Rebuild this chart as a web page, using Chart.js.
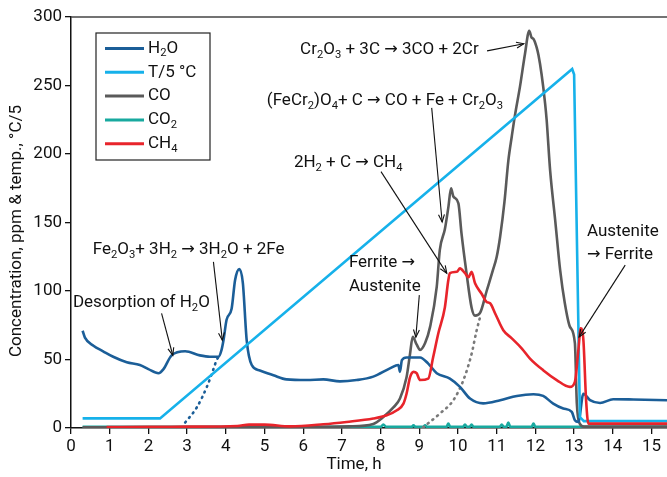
<!DOCTYPE html>
<html>
<head>
<meta charset="utf-8">
<script src="https://cdn.jsdelivr.net/npm/chart.js@4.4.1/dist/chart.umd.min.js"></script>
<style>
  html, body { margin: 0; padding: 0; background: #fff; }
</style>
</head>
<body>
<canvas id="chart" width="667" height="477"></canvas>
<script>
// values (time in h, concentration in ppm, temperature in °C/5)
const tempTime = [0.3, 2.3, 12.95, 13.0, 13.15, 13.25, 15.4];
const tempVal = [7, 7, 262, 258, 8, 5, 5];

const h2oTime = [0.30, 0.36, 0.58, 0.83, 1.09, 1.44, 1.78, 2.0, 2.26, 2.39, 2.6, 2.95, 3.33, 3.59, 3.81, 3.89, 3.94, 4.02, 4.15, 4.24, 4.35, 4.44, 4.54, 4.67, 4.88, 5.23, 5.57, 6.09, 6.52, 6.95, 7.38, 7.81, 8.24, 8.46, 8.5, 8.55, 8.67, 9.02, 9.23, 9.45, 9.79, 10.05, 10.31, 10.65, 11.09, 11.52, 11.95, 12.2, 12.46, 12.72, 12.94, 13.02, 13.11, 13.24, 13.41, 13.67, 14.01, 14.53, 15.4];
const h2oVal = [71, 66, 60, 56, 52, 48, 46, 43, 40, 43, 53, 56, 53, 52, 52, 57, 64, 79, 87, 108, 116, 106, 64, 46, 42, 38.5, 35.5, 35, 35.5, 34, 35, 37.5, 43.5, 46, 41, 49.5, 51.5, 51.5, 47, 40, 36, 30, 21.5, 18, 20.3, 23.4, 24.6, 23.4, 17.8, 14.2, 11.7, 5.6, 4.4, 25, 20.3, 18.3, 21, 20.8, 20.3];

const h2oFitTime = [2.95, 3.25, 3.51, 3.7, 3.76, 3.85];
const h2oFitVal = [4, 15, 30, 44.5, 49.5, 53];

const coTime = [0.3, 5, 7.2, 7.81, 8.07, 8.33, 8.5, 8.67, 8.76, 8.83, 8.93, 9.02, 9.15, 9.28, 9.45, 9.53, 9.66, 9.75, 9.82, 9.88, 10.01, 10.09, 10.22, 10.35, 10.44, 10.57, 10.74, 10.9, 11.0, 11.09, 11.2, 11.3, 11.39, 11.47, 11.6, 11.73, 11.84, 11.9, 11.95, 12.03, 12.08, 12.16, 12.25, 12.29, 12.38, 12.51, 12.64, 12.76, 12.89, 13.02, 13.07, 13.15, 13.25, 15.4];
const coVal = [0.5, 0.5, 1.2, 3, 8, 15, 21.5, 37, 54, 66.5, 61, 57, 62, 74, 103, 130, 145, 161, 175, 169, 164, 142, 113, 88, 82, 84, 100, 115, 125, 140, 165, 195, 213, 228, 249, 273, 290, 285, 284, 278, 272, 258, 237, 225, 188, 152, 115, 91, 74, 62, 18, 3, 1, 1];

const coFitTime = [9.1, 9.53, 9.88, 10.14, 10.35, 10.48, 10.57];
const coFitVal = [0.5, 10.5, 20.3, 35, 54, 71, 81];

const co2Time = [0.3, 8.0, 8.07, 8.15, 8.8, 8.85, 8.9, 9.1, 9.15, 9.2, 9.7, 9.75, 9.8, 10.13, 10.18, 10.23, 10.3, 10.35, 10.4, 11.08, 11.13, 11.18, 11.25, 11.3, 11.35, 11.9, 11.95, 12.0, 15.4];
const co2Val = [0.8, 0.8, 2.5, 0.8, 0.8, 2, 0.8, 0.8, 2, 0.8, 0.8, 3.2, 0.8, 0.8, 2.5, 0.8, 0.8, 2.5, 0.8, 0.8, 2.5, 0.8, 0.8, 4, 0.8, 0.8, 3.2, 0.8, 0.8];

const ch4Time = [0.92, 2, 3, 4.3, 4.6, 5, 5.66, 6.52, 7.12, 7.81, 8.16, 8.42, 8.59, 8.67, 8.76, 8.85, 8.93, 9.02, 9.23, 9.36, 9.49, 9.66, 9.75, 9.79, 9.97, 10.05, 10.18, 10.27, 10.35, 10.44, 10.61, 10.74, 10.83, 10.96, 11.17, 11.39, 11.65, 11.86, 12.2, 12.55, 12.89, 13.02, 13.11, 13.17, 13.24, 13.31, 13.37, 15.4];
const ch4Val = [0.7, 0.8, 1, 1.5, 2.5, 2.5, 1.2, 2.7, 4.4, 6.9, 9.3, 12.9, 17.8, 25, 37, 41, 40, 35, 36, 52, 69, 88, 108, 113, 114, 116.5, 113, 110, 114, 105.6, 98, 92, 91, 83.6, 71.4, 65.4, 58, 50.7, 42.2, 35, 30, 33.6, 56.8, 72.7, 64, 20, 3.2, 3.2];

const FONT = 'Roboto, "Liberation Sans", sans-serif';
const ARROW_FONT = '"DejaVu Sans", sans-serif';

function pts(xs, ys) {
  return xs.map((x, i) => ({ x: x, y: ys[i] }));
}

const legendItems = [
  { label: 'H_2O', color: '#1b5e98' },
  { label: 'T/5 °C', color: '#16b1ea' },
  { label: 'CO', color: '#5a5a5a' },
  { label: 'CO_2', color: '#18a99f' },
  { label: 'CH_4', color: '#e8242b' }
];

// text notes with leader arrows, positioned in data units
const notes = [
  { lines: ['Cr_2O_3 + 3C → 3CO + 2Cr'], x: 5.92, y: 276, from: [10.75, 275.3], to: [11.7, 280.5] },
  { lines: ['(FeCr_2)O_4+ C → CO + Fe + Cr_2O_3'], x: 5.06, y: 238.8, from: [9.32, 233.7], to: [9.59, 150.4] },
  { lines: ['2H_2 + C → CH_4'], x: 5.76, y: 193.5, from: [8.01, 187.1], to: [9.71, 112.9] },
  { lines: ['Fe_2O_3+ 3H_2 → 3H_2O + 2Fe'], x: 0.56, y: 129.9, from: [3.68, 121.3], to: [3.91, 64.1] },
  { lines: ['Desorption of H_2O'], x: 0.05, y: 91.2, from: [2.34, 83.6], to: [2.63, 53.1] },
  { lines: ['Ferrite →', 'Austenite'], x: 7.18, y: 120.4, from: [9.0, 97], to: [8.91, 66.3] },
  { lines: ['Austenite', '→ Ferrite'], x: 13.33, y: 143.3, from: [14.32, 118.9], to: [13.13, 66.5] }
];

// draws text where "_x" is a subscript character; arrows get a fuller glyph
function drawRich(ctx, text, x, y, size) {
  let cx = x;
  let i = 0;
  while (i < text.length) {
    let kind = 'n', run = '';
    if (text[i] === '_') {
      kind = 's';
      run = text[i + 1];
      i += 2;
    } else if (text[i] === '→') {
      kind = 'a';
      run = '→';
      i += 1;
    } else {
      while (i < text.length && text[i] !== '_' && text[i] !== '→') run += text[i++];
    }
    if (kind === 's') {
      ctx.font = (size * 0.66) + 'px ' + FONT;
      ctx.fillText(run, cx, y + size * 0.3);
    } else if (kind === 'a') {
      ctx.font = (size * 0.95) + 'px ' + ARROW_FONT;
      ctx.fillText(run, cx, y);
    } else {
      ctx.font = size + 'px ' + FONT;
      ctx.fillText(run, cx, y);
    }
    cx += ctx.measureText(run).width;
  }
  return cx - x;
}

function arrow(ctx, x1, y1, x2, y2) {
  ctx.beginPath();
  ctx.moveTo(x1, y1);
  ctx.lineTo(x2, y2);
  ctx.stroke();
  const a = Math.atan2(y2 - y1, x2 - x1);
  const len = 8, w = 0.38;
  ctx.beginPath();
  ctx.moveTo(x2 - len * Math.cos(a - w), y2 - len * Math.sin(a - w));
  ctx.lineTo(x2, y2);
  ctx.lineTo(x2 - len * Math.cos(a + w), y2 - len * Math.sin(a + w));
  ctx.stroke();
}

const extras = {
  id: 'extras',
  afterDatasetsDraw(chart) {
    const ctx = chart.ctx;
    const ca = chart.chartArea;
    const sx = chart.scales.x, sy = chart.scales.y;
    ctx.save();
    // top frame line
    ctx.strokeStyle = '#444';
    ctx.lineWidth = 1.5;
    ctx.beginPath();
    ctx.moveTo(ca.left, ca.top);
    ctx.lineTo(chart.width, ca.top);
    ctx.stroke();

    ctx.fillStyle = '#111';
    ctx.textBaseline = 'middle';
    ctx.textAlign = 'left';
    ctx.strokeStyle = '#111';
    ctx.lineWidth = 1.1;
    notes.forEach(n => {
      const px = sx.getPixelForValue(n.x);
      let py = sy.getPixelForValue(n.y);
      n.lines.forEach(line => {
        drawRich(ctx, line, px, py, 17);
        py += 23.5;
      });
      arrow(ctx, sx.getPixelForValue(n.from[0]), sy.getPixelForValue(n.from[1]),
        sx.getPixelForValue(n.to[0]), sy.getPixelForValue(n.to[1]));
    });

    // legend box
    const lx = ca.left + 25, ly = ca.top + 16;
    ctx.fillStyle = '#fff';
    ctx.fillRect(lx, ly, 114, 127);
    ctx.strokeStyle = '#222';
    ctx.lineWidth = 1.2;
    ctx.strokeRect(lx, ly, 114, 127);
    legendItems.forEach((it, i) => {
      const yy = ly + 15.5 + i * 23.8;
      ctx.strokeStyle = it.color;
      ctx.lineWidth = 3;
      ctx.beginPath();
      ctx.moveTo(lx + 9, yy);
      ctx.lineTo(lx + 48, yy);
      ctx.stroke();
      ctx.fillStyle = '#111';
      drawRich(ctx, it.label, lx + 52, yy, 17);
    });

    // axis titles
    ctx.fillStyle = '#111';
    ctx.font = '17px ' + FONT;
    ctx.textAlign = 'center';
    ctx.fillText('Time, h', 354, 465);
    ctx.translate(17, 231);
    ctx.rotate(-Math.PI / 2);
    ctx.fillText('Concentration, ppm & temp., °C/5', 0, 0);
    ctx.restore();
  }
};

const lineStyle = {
  pointRadius: 0,
  borderWidth: 2.6,
  fill: false,
  cubicInterpolationMode: 'monotone'
};

new Chart(document.getElementById('chart'), {
  type: 'line',
  plugins: [extras],
  data: {
    datasets: [
      Object.assign({ label: 'CH4', data: pts(ch4Time, ch4Val), borderColor: '#e8242b' }, lineStyle),
      Object.assign({ label: 'T/5 °C', data: pts(tempTime, tempVal), borderColor: '#16b1ea' }, lineStyle, { cubicInterpolationMode: 'default', tension: 0 }),
      Object.assign({ label: 'H2O', data: pts(h2oTime, h2oVal), borderColor: '#1b5e98' }, lineStyle),
      Object.assign({ label: 'H2O fit', data: pts(h2oFitTime, h2oFitVal), borderColor: '#1b5e98', borderDash: [1, 5], borderCapStyle: 'round' }, lineStyle),
      Object.assign({ label: 'CO', data: pts(coTime, coVal), borderColor: '#5a5a5a' }, lineStyle),
      Object.assign({ label: 'CO fit', data: pts(coFitTime, coFitVal), borderColor: '#7a7a7a', borderDash: [1, 5], borderCapStyle: 'round' }, lineStyle),
      Object.assign({ label: 'CO2', data: pts(co2Time, co2Val), borderColor: '#18a99f' }, lineStyle)
    ]
  },
  options: {
    responsive: false,
    animation: false,
    layout: { padding: { top: 17, right: 0, left: 0, bottom: 0 } },
    plugins: {
      legend: { display: false },
      tooltip: { enabled: false }
    },
    scales: {
      x: {
        type: 'linear',
        min: 0,
        max: 15.4,
        afterFit: function (s) { s.height = 49; },
        ticks: {
          stepSize: 1,
          includeBounds: false,
          autoSkip: false,
          maxRotation: 0,
          color: '#111',
          padding: 3,
          font: { family: FONT, size: 17 }
        },
        grid: { drawOnChartArea: false, tickLength: 6, color: '#111', lineWidth: 1.3 },
        border: { color: '#111', width: 1.5 }
      },
      y: {
        min: 0,
        max: 300,
        afterFit: function (s) { s.width = 71; },
        ticks: {
          stepSize: 50,
          color: '#111',
          padding: 3,
          font: { family: FONT, size: 17 }
        },
        grid: { drawOnChartArea: false, tickLength: 6, color: '#111', lineWidth: 1.3 },
        border: { color: '#111', width: 1.5 }
      }
    }
  }
});
</script>
</body>
</html>
